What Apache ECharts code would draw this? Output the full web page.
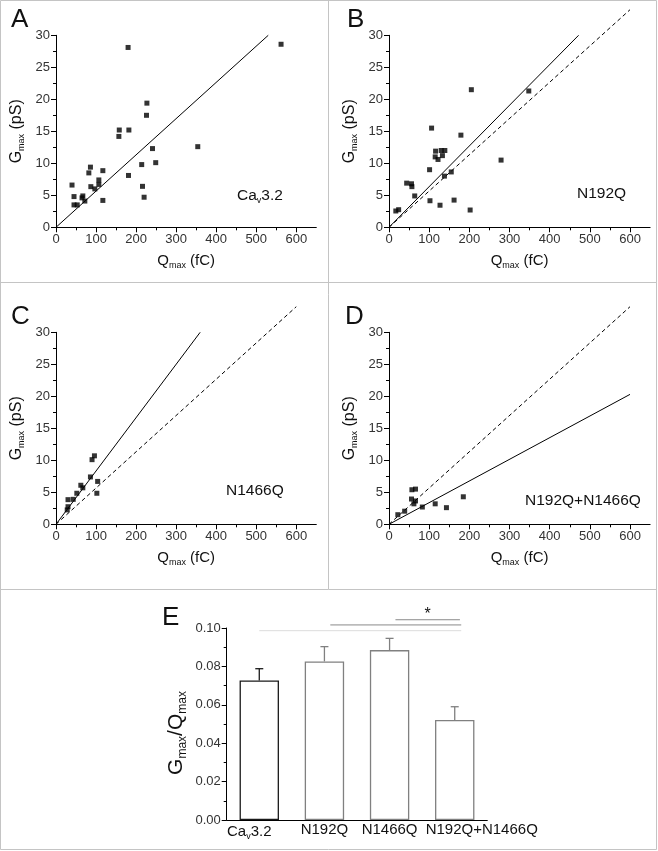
<!DOCTYPE html>
<html><head><meta charset="utf-8">
<script src="https://cdn.jsdelivr.net/npm/echarts@6/dist/echarts.min.js"></script>
<style>html,body{margin:0;padding:0;background:#fff}#c{width:658px;height:851px}</style>
</head><body><div id="c"></div>
<script>
// ---------- DATA ----------
// Panel A: CaV3.2
const A_Q = [180, 562, 227, 226, 158, 182, 157, 354, 241, 249, 214, 181, 216, 220, 86, 82, 117, 107, 107, 97, 87, 117, 40, 45, 67, 65, 72, 45, 53];
const A_G = [28.1, 28.6, 19.4, 17.5, 15.2, 15.2, 14.2, 12.6, 12.3, 10.1, 9.8, 8.1, 6.4, 4.7, 9.4, 8.5, 8.85, 7.4, 6.7, 6.0, 6.35, 4.2, 6.6, 4.8, 4.9, 4.6, 4.1, 3.5, 3.5];
// Panel B: N192Q
const B_Q = [205, 348, 106, 179, 116, 130, 139, 115, 133, 122, 279, 101, 155, 138, 44, 56, 57, 64, 102, 162, 127, 202, 17, 24];
const B_G = [21.5, 21.3, 15.5, 14.4, 11.9, 12.0, 12.0, 11.0, 11.2, 10.6, 10.5, 9.0, 8.65, 8.0, 6.9, 6.8, 6.35, 4.9, 4.15, 4.25, 3.45, 2.7, 2.55, 2.75];
// Panel C: N1466Q
const C_Q = [96, 90, 86, 104, 62, 67, 52, 102, 43, 30, 30, 28];
const C_G = [10.7, 10.1, 7.4, 6.7, 6.1, 5.7, 4.85, 4.85, 3.9, 3.85, 2.75, 2.25];
// Panel D: N192Q+N1466Q
const D_Q = [57, 66, 56, 66, 62, 185, 115, 143, 83, 39, 22];
const D_G = [5.4, 5.5, 3.95, 3.65, 3.2, 4.3, 3.2, 2.6, 2.7, 2.05, 1.5];
// Fit lines (endpoints, fC / pS)
const fitA = [[0, 0], [530, 30]];
const fitB = [[0, 0], [472, 30]];
const fitC = [[0, 0], [360, 30]];
const fitD = [[0, 0], [600, 20.3]];
const fitWT = [[0, 0], [600, 34]];   // dashed CaV3.2 reference
// Panel E
const E_cats = ['Cav3.2', 'N192Q', 'N1466Q', 'N192Q+N1466Q'];
const E_mean = [0.0727, 0.0826, 0.0885, 0.0521];
const E_sem  = [0.0061, 0.0077, 0.0061, 0.0069];
const E_sig  = [[0, 3, 0.0986], [1, 3, 0.1016], [2, 3, 0.1043]];
// Tick labels
const Q_ticks = [0, 100, 200, 300, 400, 500, 600];
const G_ticks = [0, 5, 10, 15, 20, 25, 30];

// ---------- STYLE ----------
const FONT = 'Liberation Sans, Arial, sans-serif';
const BORDER = '#c4c4c4';
const grids = [
  {left: 56, top: 35.3, width: 260.3, height: 192},
  {left: 389, top: 35.3, width: 261.1, height: 192},
  {left: 56, top: 332.3, width: 260.3, height: 192},
  {left: 389, top: 332.3, width: 261.1, height: 192},
  {left: 226.7, top: 628, width: 260.6, height: 192}
];
const nameRich = {
  b: {fontSize: 15, fontFamily: FONT, color: '#111'},
  s: {fontSize: 9, fontFamily: FONT, color: '#111', padding: [10, 0, 0, 0]}
};
const tickLabel = {fontSize: 13, color: '#333', fontFamily: FONT};
function xAxisFor(i) {
  return {
    type: 'value', gridIndex: i, min: 0, max: 650, interval: 100,
    axisLine: {show: true, onZero: false, lineStyle: {color: '#000', width: 1}},
    axisTick: {show: true, length: 5, customValues: Q_ticks, lineStyle: {color: '#000'}},
    minorTick: {show: true, splitNumber: 2, length: 3, lineStyle: {color: '#000'}},
    splitLine: {show: false},
    axisLabel: Object.assign({margin: 6, customValues: Q_ticks}, tickLabel),
    name: '{b|Q}{s|max}{b| (fC)}', nameLocation: 'middle', nameGap: 24,
    nameTextStyle: {rich: nameRich}
  };
}
function yAxisFor(i) {
  return {
    type: 'value', gridIndex: i, min: 0, max: 30, interval: 5,
    axisLine: {show: true, onZero: false, lineStyle: {color: '#000', width: 1}},
    axisTick: {show: true, length: 5, lineStyle: {color: '#000'}},
    minorTick: {show: true, splitNumber: 2, length: 3, lineStyle: {color: '#000'}},
    splitLine: {show: false},
    axisLabel: Object.assign({margin: 6, customValues: G_ticks}, tickLabel),
    name: '{b|G}{s|max}{b| (pS)}', nameLocation: 'middle', nameGap: 30, nameRotate: 90,
    nameTextStyle: {rich: {
      b: {fontSize: 16, fontFamily: FONT, color: '#111'},
      s: {fontSize: 9, fontFamily: FONT, color: '#111', padding: [10, 0, 0, 0]}
    }}
  };
}
function pts(q, g) { return q.map((v, k) => [v, g[k]]); }
function scatter(i, q, g) {
  return {type: 'scatter', xAxisIndex: i, yAxisIndex: i, data: pts(q, g),
    symbol: 'rect', symbolSize: 5, itemStyle: {color: '#000'}, silent: true, z: 3};
}
function line(i, d, dashed) {
  return {type: 'line', xAxisIndex: i, yAxisIndex: i, data: d, showSymbol: false, clip: false,
    lineStyle: {color: '#000', width: 1, type: dashed ? [4, 3] : 'solid'}, silent: true, z: 2};
}
const E_colors = ['#1a1a1a', '#808080', '#808080', '#808080'];
const E_sigColors = ['#dcdcdc', '#8a8a8a', '#8a8a8a'];
const E_sigStart = [0, 0.09, 0.09];
const E_sigEnd = [0.1, 0.1, 0.08];

const xAxes = [0, 1, 2, 3].map(xAxisFor);
const yAxes = [0, 1, 2, 3].map(yAxisFor);
xAxes.push({
  type: 'category', gridIndex: 4, data: E_cats,
  axisLine: {show: true, lineStyle: {color: '#000', width: 1}},
  axisTick: {show: false},
  axisLabel: {
    margin: 2, interval: 0,
    formatter: function (v, idx) {
      if (idx === 0) return '{b|Ca}{s|v}{e|3.2}';
      if (idx === 3) return '{p|}{b|' + v + '}';
      return '{b|' + v + '}';
    },
    rich: {
      b: {fontSize: 15, fontFamily: FONT, color: '#111'},
      e: {fontSize: 15, fontFamily: FONT, color: '#111', padding: [0, 20, 0, 0]},
      s: {fontSize: 9, fontFamily: FONT, color: '#111', padding: [10, 0, 0, 0]},
      p: {fontSize: 15, fontFamily: FONT, padding: [0, 0, 0, 54]}
    }
  }
});
yAxes.push({
  type: 'value', gridIndex: 4, min: 0, max: 0.1, interval: 0.02,
  axisLine: {show: true, lineStyle: {color: '#000', width: 1}},
  axisTick: {show: true, length: 5, lineStyle: {color: '#000'}},
  minorTick: {show: true, splitNumber: 2, length: 3, lineStyle: {color: '#000'}},
  splitLine: {show: false},
  axisLabel: Object.assign({margin: 6, formatter: v => v.toFixed(2)}, tickLabel),
  name: '{b|G}{s|max}{b|/Q}{t|max}', nameLocation: 'middle', nameGap: 38, nameRotate: 90,
  nameTextStyle: {rich: {
    b: {fontSize: 21, fontFamily: FONT, color: '#111'},
    s: {fontSize: 12, fontFamily: FONT, color: '#111', padding: [13, 0, 0, 0]},
    t: {fontSize: 12, fontFamily: FONT, color: '#111', padding: [13, 18, 0, 0]}
  }}
});

function txt(x, y, text, size, rich) {
  return {type: 'text', x: x, y: y, silent: true,
    style: {text: text, fontSize: size, fontFamily: FONT, fill: '#111', verticalAlign: 'middle', align: 'left', rich: rich}};
}
const annRich = {
  b: {fontSize: 15.5, fontFamily: FONT, color: '#111'},
  s: {fontSize: 9, fontFamily: FONT, color: '#111', padding: [10, 0, 0, 0]}
};

const option = {
  animation: false,
  backgroundColor: '#fff',
  grid: grids,
  xAxis: xAxes,
  yAxis: yAxes,
  series: [
    line(0, fitA, false), scatter(0, A_Q, A_G),
    line(1, fitWT, true), line(1, fitB, false), scatter(1, B_Q, B_G),
    line(2, fitWT, true), line(2, fitC, false), scatter(2, C_Q, C_G),
    line(3, fitWT, true), line(3, fitD, false), scatter(3, D_Q, D_G),
    {type: 'bar', xAxisIndex: 4, yAxisIndex: 4, barWidth: 39.4, silent: true,
     data: E_mean.map((v, k) => ({value: v, itemStyle: {color: '#fff', borderColor: E_colors[k], borderWidth: 1.3}})), z: 2},
    {type: 'custom', xAxisIndex: 4, yAxisIndex: 4, silent: true, z: 3,
     data: E_mean.map((v, k) => [k, v, v + E_sem[k]]),
     encode: {x: 0, y: 1},
     renderItem: function (params, api) {
       const i = api.value(0);
       const p0 = api.coord([i, api.value(1)]), p1 = api.coord([i, api.value(2)]);
       const c = E_colors[i];
       return {type: 'group', children: [
         {type: 'line', shape: {x1: p0[0], y1: p0[1], x2: p1[0], y2: p1[1]}, style: {stroke: c, lineWidth: 1.3}},
         {type: 'line', shape: {x1: p1[0] - 4, y1: p1[1], x2: p1[0] + 4, y2: p1[1]}, style: {stroke: c, lineWidth: 1.3}}
       ]};
     }},
    {type: 'custom', xAxisIndex: 4, yAxisIndex: 4, silent: true, z: 3, clip: false,
     data: E_sig, encode: {x: 0, y: 2},
     renderItem: function (params, api) {
       const k = params.dataIndex;
       const band = api.size([1, 0])[0];
       const a = api.coord([api.value(0), api.value(2)]), b = api.coord([api.value(1), api.value(2)]);
       const x1 = a[0] + E_sigStart[k] * band, x2 = b[0] + E_sigEnd[k] * band;
       const children = [{type: 'line', shape: {x1: x1, y1: a[1], x2: x2, y2: a[1]}, style: {stroke: E_sigColors[k], lineWidth: 1}}];
       if (k === E_sig.length - 1) {
         children.push({type: 'text', x: (x1 + x2) / 2, y: a[1] - 5,
           style: {text: '*', fontSize: 16, fontFamily: FONT, fill: '#111', align: 'center', verticalAlign: 'middle'}});
       }
       return {type: 'group', children: children};
     }}
  ],
  graphic: [
    {type: 'rect', shape: {x: 0.5, y: 0.5, width: 656, height: 849}, style: {fill: 'none', stroke: BORDER, lineWidth: 1}, silent: true},
    {type: 'line', shape: {x1: 0, y1: 282.5, x2: 657, y2: 282.5}, style: {stroke: BORDER, lineWidth: 1}, silent: true},
    {type: 'line', shape: {x1: 0, y1: 589.5, x2: 657, y2: 589.5}, style: {stroke: BORDER, lineWidth: 1}, silent: true},
    {type: 'line', shape: {x1: 328.5, y1: 0, x2: 328.5, y2: 589.5}, style: {stroke: BORDER, lineWidth: 1}, silent: true},
    txt(11, 19.5, 'A', 26),
    txt(347, 19.5, 'B', 26),
    txt(11, 317, 'C', 26),
    txt(345, 317, 'D', 26),
    txt(162, 618, 'E', 26),
    txt(237, 196, '{b|Ca}{s|v}{b|3.2}', 15.5, annRich),
    txt(577, 194, '{b|N192Q}', 15.5, annRich),
    txt(226, 490.5, '{b|N1466Q}', 15.5, annRich),
    txt(525, 501, '{b|N192Q+N1466Q}', 15.5, annRich)
  ]
};
const chart = echarts.init(document.getElementById('c'), null, {renderer: 'canvas'});
chart.setOption(option);
</script>
</body></html>
